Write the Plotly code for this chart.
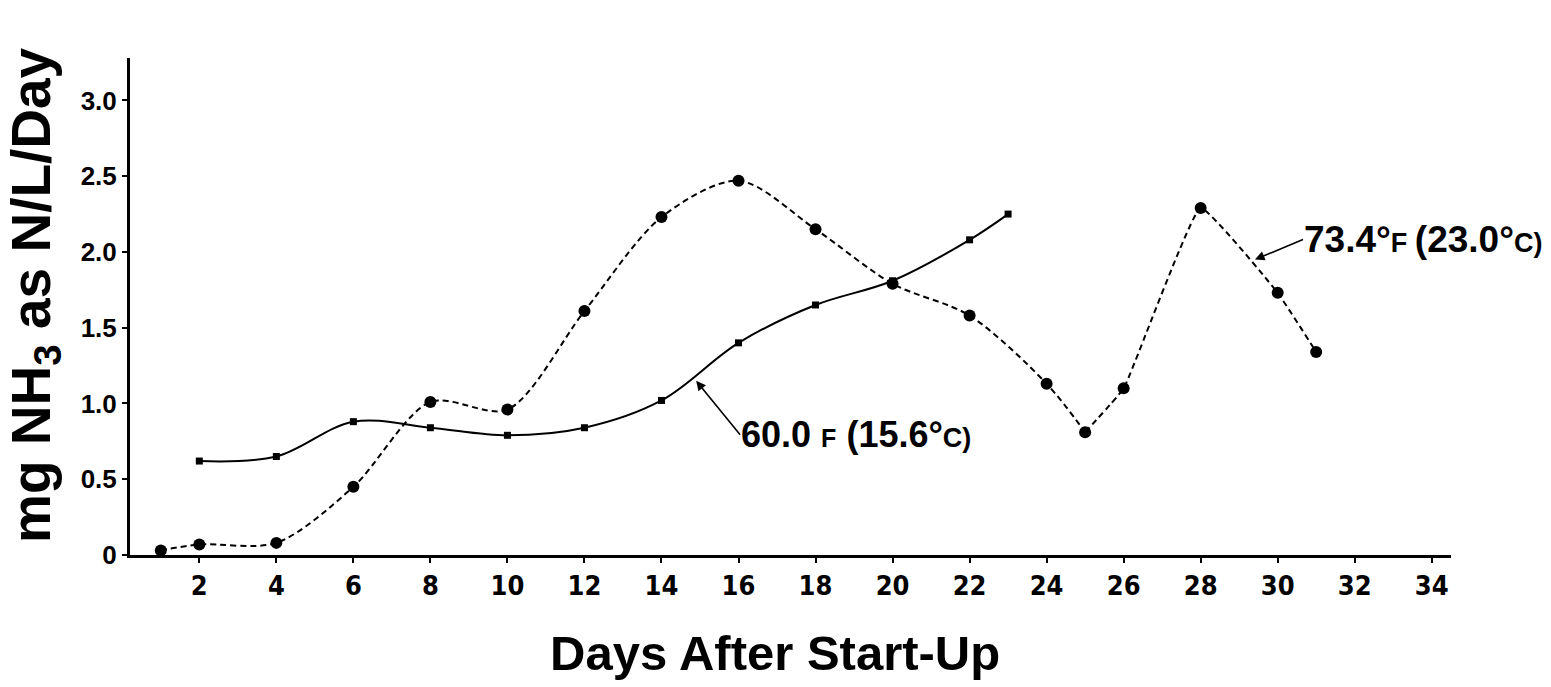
import plotly.graph_objects as go

# ---- data ----
days_60F = [2, 4, 6, 8, 10, 12, 14, 16, 18, 20, 22, 23]
rate_60F = [0.62, 0.65, 0.88, 0.84, 0.79, 0.84, 1.02, 1.40, 1.65, 1.81, 2.08, 2.25]

days_73F = [1, 2, 4, 6, 8, 10, 12, 14, 16, 18, 20, 22, 24, 25, 26, 28, 30, 31]
rate_73F = [0.03, 0.07, 0.08, 0.45, 1.01, 0.96, 1.61, 2.23, 2.47, 2.15, 1.79, 1.58,
            1.13, 0.81, 1.10, 2.29, 1.73, 1.34]

x_tick_vals = [2, 4, 6, 8, 10, 12, 14, 16, 18, 20, 22, 24, 26, 28, 30, 32, 34]
y_tick_vals = [0, 0.5, 1.0, 1.5, 2.0, 2.5, 3.0]
y_tick_text = ["0", "0.5", "1.0", "1.5", "2.0", "2.5", "3.0"]

x_title = "Days After Start-Up"
y_title = "mg NH<sub>3</sub> as N/L/Day"

FONT = "Liberation Sans, Arial, Helvetica, sans-serif"
NARROW = "Liberation Sans Narrow, Arial Narrow, DejaVu Sans Condensed, Liberation Sans, sans-serif"

# split index for the dashed series: smooth part up to day 25, straighter afterwards
split = days_73F.index(25)

fig = go.Figure()

# 60.0 F series: solid smooth line with small square markers
fig.add_trace(go.Scatter(
    x=days_60F, y=rate_60F, mode="lines+markers",
    line=dict(color="black", width=2, shape="spline", smoothing=1.0),
    marker=dict(symbol="square", size=7, color="black"),
    showlegend=False, hoverinfo="skip"))

# 73.4 F series: dashed, smooth first part
fig.add_trace(go.Scatter(
    x=days_73F[:split + 1], y=rate_73F[:split + 1], mode="lines",
    line=dict(color="black", width=2, dash="6px,4px", shape="spline", smoothing=0.85),
    showlegend=False, hoverinfo="skip"))
# dashed, straighter second part
fig.add_trace(go.Scatter(
    x=days_73F[split:], y=rate_73F[split:], mode="lines",
    line=dict(color="black", width=2, dash="6px,4px", shape="spline", smoothing=0.3),
    showlegend=False, hoverinfo="skip"))
# markers of the 73.4 F series
fig.add_trace(go.Scatter(
    x=days_73F, y=rate_73F, mode="markers",
    marker=dict(symbol="circle", size=12, color="black"),
    showlegend=False, hoverinfo="skip"))

label_60F = ("<span style='font-size:36px'>60.0</span> <span style='font-size:25px'>F</span> "
             "<span style='font-size:36px'>(15.6°</span><span style='font-size:27px'>C)</span>")
label_73F = ("<span style='font-size:37px'>73.4°</span><span style='font-size:27px'>F </span>"
             "<span style='font-size:37px'>(23.0°</span><span style='font-size:27px'>C)</span>")

annotations = [
    # label + arrow for the 60 F curve (text sits at the arrow tail)
    dict(x=14.90, y=1.15, xref="x", yref="y", ax=44, ay=54,
         xanchor="left", yanchor="middle", showarrow=True,
         arrowhead=2, arrowsize=1.2, arrowwidth=1.6, arrowcolor="black",
         text=label_60F, borderpad=0,
         font=dict(family=FONT, size=36, color="black", weight="bold")),
    # label + arrow for the 73.4 F curve
    dict(x=29.41, y=1.95, xref="x", yref="y", ax=48, ay=-20,
         xanchor="left", yanchor="middle", showarrow=True,
         arrowhead=2, arrowsize=1.2, arrowwidth=1.6, arrowcolor="black",
         text=label_73F, borderpad=0,
         font=dict(family=FONT, size=37, color="black", weight="bold")),
    # axis titles
    dict(x=-0.072, y=0.523, xref="paper", yref="paper", xanchor="center", yanchor="middle",
         textangle=-90, showarrow=False, text=y_title, borderpad=0,
         font=dict(family=FONT, size=55, color="black", weight="bold")),
    dict(x=0.488, y=-0.197, xref="paper", yref="paper", xanchor="center", yanchor="middle",
         showarrow=False, text=x_title,
         font=dict(family=FONT, size=49, color="black", weight="bold")),
]

# the page body has an 8px margin, so the figure is 8px smaller and margins shifted
fig.update_layout(
    width=1543, height=679,
    margin=dict(l=122, r=100, t=50, b=132),
    paper_bgcolor="white", plot_bgcolor="white",
    annotations=annotations,
    xaxis=dict(range=[0.2, 34.5], tickvals=x_tick_vals, showgrid=False, zeroline=False,
               showline=True, linecolor="black", linewidth=3,
               ticks="outside", ticklen=5, tickwidth=2, tickcolor="black",
               tickfont=dict(family=NARROW, size=27, color="black", weight="bold")),
    yaxis=dict(range=[0, 3.28], tickvals=y_tick_vals, ticktext=y_tick_text,
               showgrid=False, zeroline=False,
               showline=True, linecolor="black", linewidth=3,
               ticks="outside", ticklen=5, tickwidth=2, tickcolor="black",
               tickfont=dict(family=FONT, size=26, color="black", weight="bold")),
)

fig.write_html("out.html")
